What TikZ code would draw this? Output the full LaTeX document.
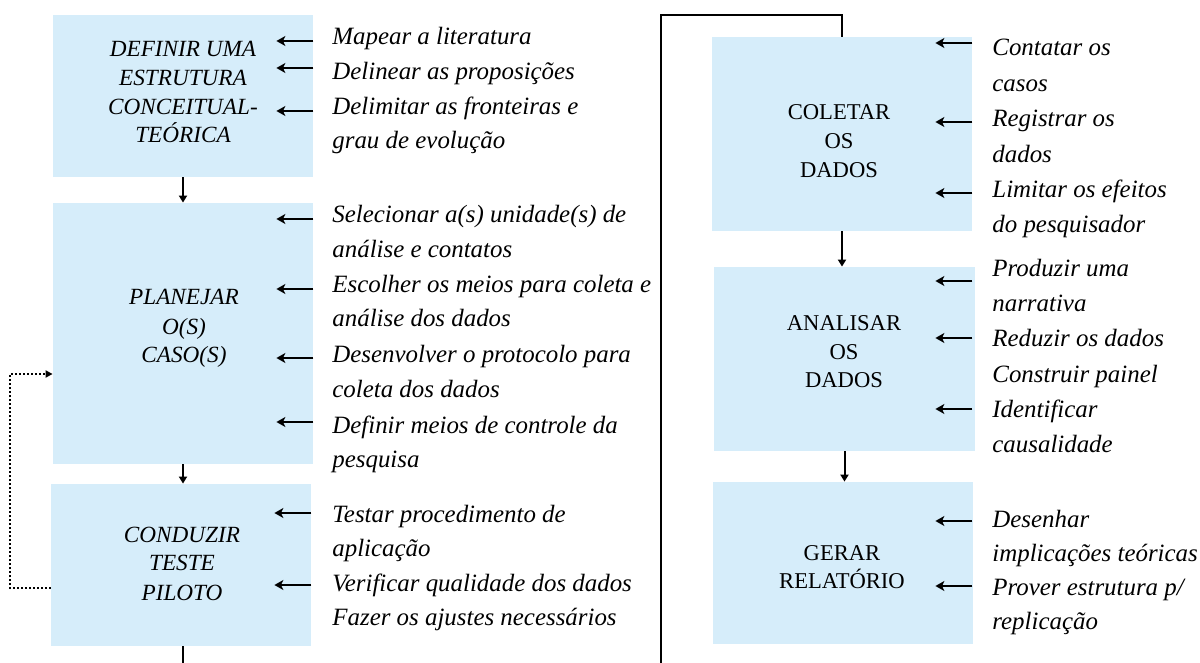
\documentclass[tikz,border=0pt]{standalone}
\usepackage{fontspec}
\setmainfont{Liberation Serif}
\usetikzlibrary{arrows.meta}
\definecolor{boxblue}{HTML}{D6EDFA}
\begin{document}
\begin{tikzpicture}[x=0.5pt,y=-0.5pt,
  box/.style={fill=boxblue, draw=none, inner sep=0pt},
  side/.style={font=\fontsize{12.45}{15}\selectfont\itshape, anchor=base west, inner sep=0pt},
  labi/.style={font=\fontsize{11.6}{14}\selectfont\itshape, anchor=base, inner sep=0pt},
  labr/.style={font=\fontsize{11.3}{14}\selectfont, anchor=base, inner sep=0pt},
  sa/.style={line width=1.3pt, -{Stealth[length=4.5pt,width=5pt,inset=1.2pt]}},
  va/.style={line width=1pt, -{Triangle[length=3.5pt,width=4pt]}},
  conn/.style={line width=1pt},
  dot/.style={line width=1.1pt, dash pattern=on 1pt off 1pt, -{Triangle[length=3.5pt,width=3.5pt]}}]
\useasboundingbox (0,0) rectangle (1200,663);

% boxes
\node[box, minimum width=130pt, minimum height=81pt] (b1) at (183,96) {};
\node[box, minimum width=130pt, minimum height=130.5pt] (b2) at (183,333.5) {};
\node[box, minimum width=130pt, minimum height=81pt] (b3) at (181,565) {};
\node[box, minimum width=130pt, minimum height=97pt] (b4) at (842,134) {};
\node[box, minimum width=130.5pt, minimum height=92pt] (b5) at (844.5,359) {};
\node[box, minimum width=130pt, minimum height=81pt] (b6) at (843,563) {};

% box labels
\foreach \y/\t [count=\i] in {57/DEFINIR UMA, 86/ESTRUTURA, 115/CONCEITUAL-, 143/TEÓRICA}
  \node[labi] (la\i) at (183,\y) {\t};
\foreach \y/\t [count=\i] in {305/PLANEJAR, 335/O(S), 363/CASO(S)}
  \node[labi] (lb\i) at (184,\y) {\t};
\foreach \y/\t [count=\i] in {542/CONDUZIR, 570/TESTE, 600/PILOTO}
  \node[labi] (lc\i) at (182,\y) {\t};
\foreach \y/\t [count=\i] in {120/COLETAR, 149/OS, 178/DADOS}
  \node[labr] (ld\i) at (839,\y) {\t};
\foreach \y/\t [count=\i] in {330/ANALISAR, 359/OS, 387/DADOS}
  \node[labr] (le\i) at (844,\y) {\t};
\foreach \y/\t [count=\i] in {560/GERAR, 588/RELATÓRIO}
  \node[labr] (lf\i) at (842,\y) {\t};

% side texts, left column
\foreach \y/\t [count=\i] in {45/Mapear a literatura, 80/Delinear as proposições,
    115/Delimitar as fronteiras e, 149/grau de evolução}
  \node[side] (sa\i) at (332,\y) {\t};
\foreach \y/\t [count=\i] in {223/Selecionar a(s) unidade(s) de, 258/análise e contatos,
    293/Escolher os meios para coleta e, 327/análise dos dados,
    363/Desenvolver o protocolo para, 397/coleta dos dados,
    433/Definir meios de controle da, 467/pesquisa}
  \node[side] (sb\i) at (332,\y) {\t};
\foreach \y/\t [count=\i] in {522/Testar procedimento de, 556/aplicação,
    591/Verificar qualidade dos dados, 625/Fazer os ajustes necessários}
  \node[side] (sc\i) at (332,\y) {\t};

% side texts, right column
\foreach \y/\t [count=\i] in {56/Contatar os, 92/casos, 127/Registrar os, 163/dados,
    198/Limitar os efeitos, 233/do pesquisador}
  \node[side] (sd\i) at (992,\y) {\t};
\foreach \y/\t [count=\i] in {277/Produzir uma, 312/narrativa, 347/Reduzir os dados,
    382/Construir painel, 417/Identificar, 452/causalidade}
  \node[side] (se\i) at (992,\y) {\t};
\foreach \y/\t [count=\i] in {527/Desenhar, 561/implicações teóricas,
    595/{Prover estrutura p/}, 629/replicação}
  \node[side] (sf\i) at (992,\y) {\t};

% side arrows
\foreach \y in {41,68,111} \draw[sa] (b1.east |- 0,\y) -- ++(-37,0);
\foreach \y in {219,289,358,422} \draw[sa] (b2.east |- 0,\y) -- ++(-37,0);
\foreach \y in {513,585} \draw[sa] (b3.east |- 0,\y) -- ++(-37,0);
\foreach \y in {43,122,193} \draw[sa] (b4.east |- 0,\y) -- ++(-37,0);
\foreach \y in {281,338,409} \draw[sa] (b4.east |- 0,\y) -- ++(-37,0);
\foreach \y in {521,586} \draw[sa] (b4.east |- 0,\y) -- ++(-37,0);

% flow arrows
\draw[va] (b1.south) -- (b2.north);
\draw[va] (b2.south) -- (b2.south |- b3.north);
\draw[va] (b4.south) -- (b4.south |- b5.north);
\draw[va] (b5.south) -- (b5.south |- b6.north);

% loop back (dotted)
\draw[dot] (b3.west |- 0,588) -- (10,588) |- (b2.west |- 0,374);

% connectors leaving / entering the page
\coordinate (endL) at (183,663);
\coordinate (startR) at (661,663);
\coordinate (topR) at (661,15);
\draw[conn] (b3.south -| endL) -- (endL);
\draw[conn] (startR) -- (topR) -| (b4.north);
\end{tikzpicture}
\end{document}
